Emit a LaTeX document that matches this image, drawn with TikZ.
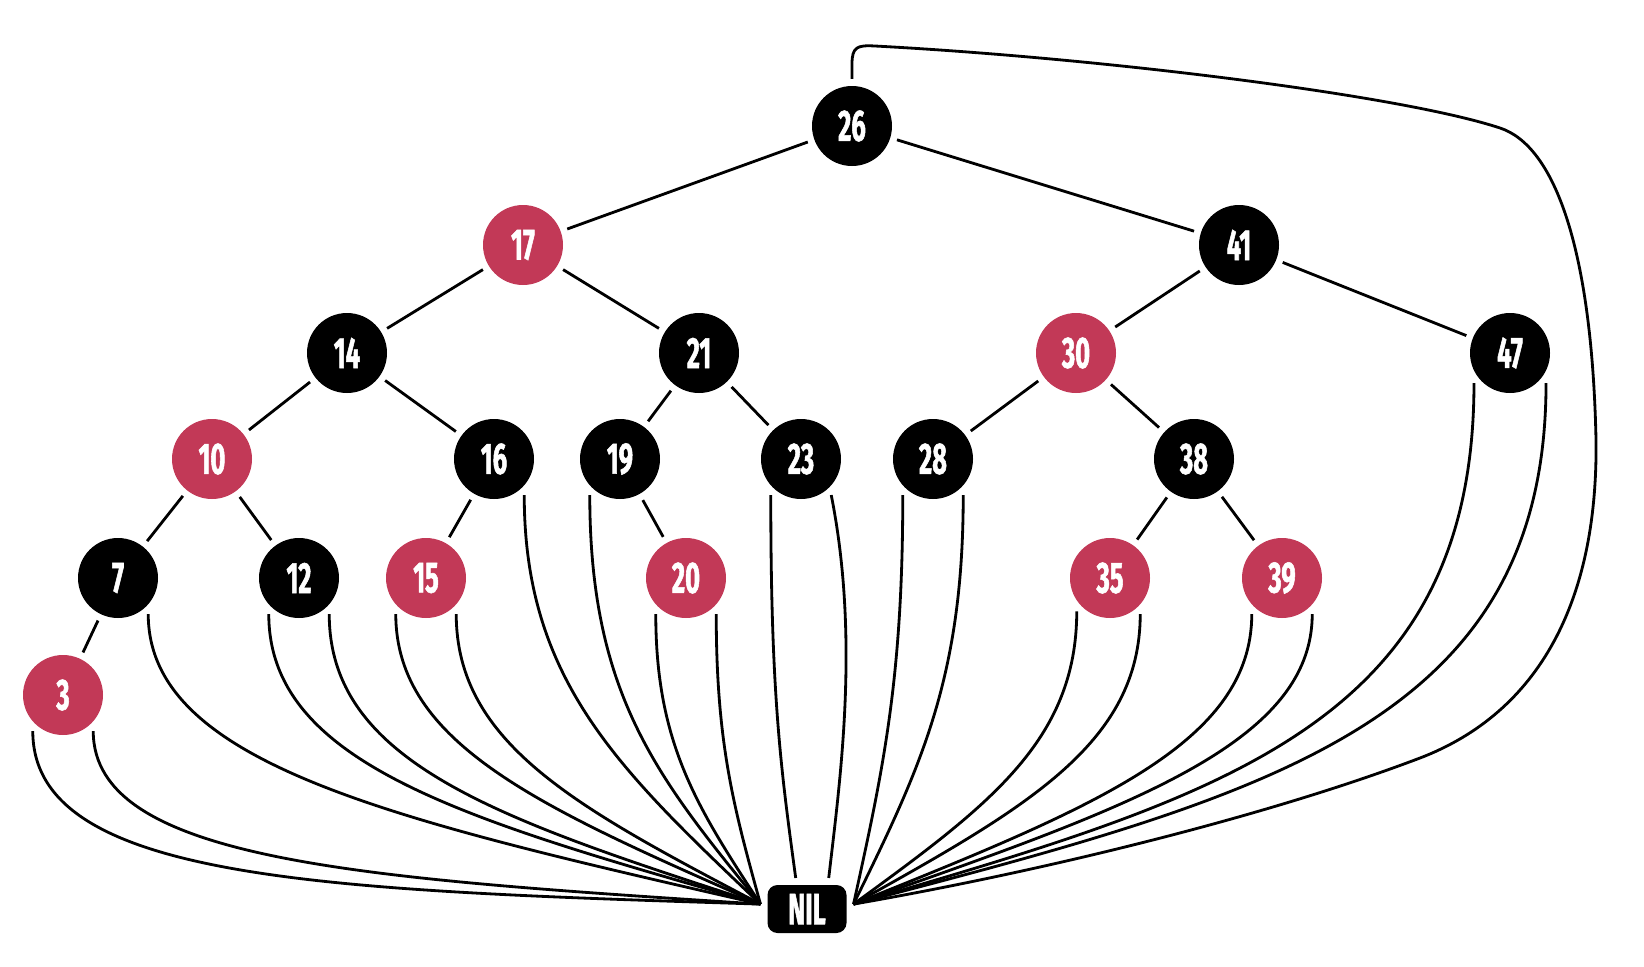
\documentclass[tikz,border=0pt]{standalone}
\usepackage{fontspec}
\newfontfamily\rbfont{Fira Sans}[FakeStretch=0.58, FakeBold=1.2]
\usetikzlibrary{calc}
\definecolor{rbred}{RGB}{194,57,87}
% one pointer into the sentinel: straight down first, then bend over
\newcommand\niledge[3]{%
  \path (#1) coordinate (s) ++(0,#3) coordinate (c);
  \draw (s) .. controls (c) and ($(#2)!0.6!(c)$) .. (#2);}

\begin{document}
\begin{tikzpicture}[x=0.1mm, y=-0.1mm, line width=0.8pt,
    rb/.style={circle, inner sep=0pt, minimum size=8mm, outer sep=2pt, text=white,
      font=\rbfont\bfseries\fontsize{12.5}{14}\selectfont},
    bnode/.style={rb, fill=black},
    rnode/.style={rb, fill=rbred},
    nilbox/.style={rectangle, rounded corners=1mm, fill=black, text=white, inner sep=0pt,
      minimum width=7.9mm, minimum height=4.8mm, outer sep=2pt,
      font=\rbfont\bfseries\fontsize{12.5}{14}\selectfont}]
    \useasboundingbox (0,0) rectangle (1644,966);

    \node [bnode] (n26) at (852,126) {26};

    \node [rnode] (n17) at (523,245) {17};
    \node [bnode] (n41) at (1239,245) {41};

    \node [bnode] (n14) at (347,353) {14};
    \node [bnode] (n21) at (699,353) {21};
    \node [rnode] (n30) at (1076,353) {30};
    \node [bnode] (n47) at (1510,353) {47};

    \node [rnode] (n10) at (212,459) {10};
    \node [bnode] (n16) at (494,459) {16};
    \node [bnode] (n19) at (620,459) {19};
    \node [bnode] (n23) at (801,459) {23};
    \node [bnode] (n28) at (933,459) {28};
    \node [bnode] (n38) at (1194,459) {38};

    \node [bnode] (n7) at (118,578) {7};
    \node [bnode] (n12) at (299,578) {12};
    \node [rnode] (n15) at (426,578) {15};
    \node [rnode] (n20) at (686,578) {20};
    \node [rnode] (n35) at (1110,578) {35};
    \node [rnode] (n39) at (1282,578) {39};

    \node [rnode] (n3) at (63,695) {3};

    \node [nilbox] (nil) at (807,909) {NIL};

    % tree
    \draw (n26) -- (n17); \draw (n26) -- (n41);
    \draw (n17) -- (n14); \draw (n17) -- (n21);
    \draw (n41) -- (n30); \draw (n41) -- (n47);
    \draw (n14) -- (n10); \draw (n14) -- (n16);
    \draw (n21) -- (n19); \draw (n21) -- (n23);
    \draw (n30) -- (n28); \draw (n30) -- (n38);
    \draw (n10) -- (n7); \draw (n10) -- (n12);
    \draw (n16) -- (n15); \draw (n19) -- (n20);
    \draw (n38) -- (n35); \draw (n38) -- (n39);
    \draw (n7) -- (n3);

    % leaves to NIL, left side
    \niledge{n3.-130}{nil.174}{150} \niledge{n3.-50}{nil.174}{130}
    \niledge{n7.-50}{nil.174}{150}
    \niledge{n12.-130}{nil.174}{150} \niledge{n12.-50}{nil.174}{150}
    \niledge{n15.-130}{nil.174}{130} \niledge{n15.-50}{nil.174}{130}
    \niledge{n16.-50}{nil.174}{185}
    \niledge{n19.-130}{nil.174}{200}
    \niledge{n20.-130}{nil.174}{130} \niledge{n20.-50}{nil.174}{130}

    % from above
    \niledge{n23.-130}{nil.110}{200}
    \draw (n23.-50) .. controls (860,640) and (840,780) .. (nil.55);

    % right side
    \niledge{n28.-130}{nil.6}{185} \niledge{n28.-50}{nil.6}{185}
    \niledge{n35.-135}{nil.6}{130} \niledge{n35.-50}{nil.6}{130}
    \niledge{n39.-130}{nil.6}{130} \niledge{n39.-50}{nil.6}{130}
    \niledge{n47.-140}{nil.6}{340} \niledge{n47.-40}{nil.6}{340}

    % parent of the root
    \draw (n26.north) -- (852,64) .. controls (852,47) and (857,45) .. (875,46)
      .. controls (1100,58) and (1400,95) .. (1500,128)
      .. controls (1555,146) and (1592,250) .. (1596,440)
      .. controls (1598,600) and (1540,712) .. (1420,758)
      .. controls (1270,815) and (1050,870) .. (nil.6);
\end{tikzpicture}
\end{document}
